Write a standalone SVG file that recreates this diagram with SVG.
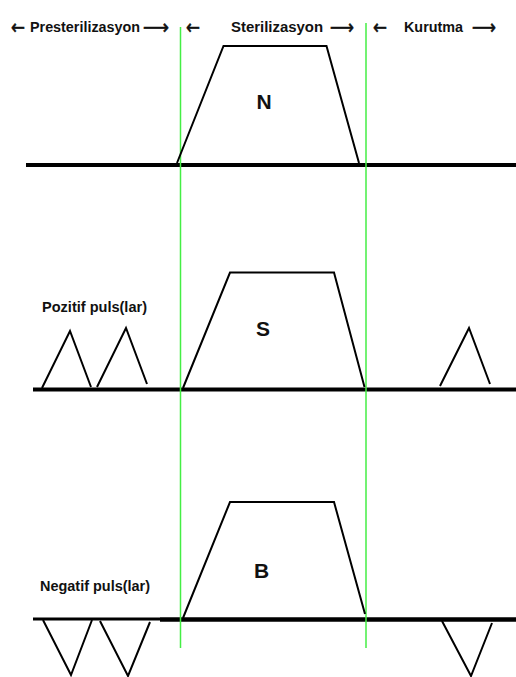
<svg xmlns="http://www.w3.org/2000/svg" width="516" height="677" viewBox="0 0 516 677">
<style>
.base{stroke:#000;stroke-width:4;fill:none}
.shape{stroke:#000;stroke-width:2;fill:none;stroke-linejoin:miter}
.green{stroke:#44ee44;stroke-width:1.5;fill:none}
.hdr{font-family:"Liberation Sans","DejaVu Sans",Arial,sans-serif;font-weight:bold;font-size:14px;fill:#111}
.arr{font-family:"DejaVu Sans","Liberation Sans",sans-serif;font-size:20px;fill:#111;stroke:#111;stroke-width:0.6}
.lbl{font-family:"Liberation Sans",Arial,sans-serif;font-weight:bold;font-size:21px;fill:#111;text-anchor:middle}
</style>
<rect width="516" height="677" fill="#fff"/>
<g id="connectors">
<line class="base" x1="26" y1="165" x2="516" y2="165"/>
<line class="base" x1="33" y1="389.5" x2="516" y2="389.5"/>
<line class="base" x1="33" y1="619" x2="160" y2="619" style="stroke-width:3"/>
<line class="base" x1="160" y1="619.5" x2="516" y2="619.5" style="stroke-width:4.5"/>
<line class="green" x1="180.5" y1="27" x2="180.5" y2="648"/>
<line class="green" x1="366" y1="23" x2="366" y2="648"/>
</g>
<g id="header-presterilizasyon">
<text class="arr" x="11" y="33.5" textLength="14" lengthAdjust="spacingAndGlyphs">←</text>
<text class="hdr" x="30" y="32" textLength="110" lengthAdjust="spacingAndGlyphs">Presterilizasyon</text>
<text class="arr" x="143" y="33.5" textLength="26" lengthAdjust="spacingAndGlyphs">⟶</text>
</g>
<g id="header-sterilizasyon">
<text class="arr" x="186" y="33.5" textLength="14" lengthAdjust="spacingAndGlyphs">←</text>
<text class="hdr" x="231" y="32" textLength="92" lengthAdjust="spacingAndGlyphs">Sterilizasyon</text>
<text class="arr" x="330" y="33.5" textLength="24" lengthAdjust="spacingAndGlyphs">⟶</text>
</g>
<g id="header-kurutma">
<text class="arr" x="373" y="33.5" textLength="14" lengthAdjust="spacingAndGlyphs">←</text>
<text class="hdr" x="404" y="32" textLength="59" lengthAdjust="spacingAndGlyphs">Kurutma</text>
<text class="arr" x="472" y="33.5" textLength="24" lengthAdjust="spacingAndGlyphs">⟶</text>
</g>
<g id="node-N">
<polyline class="shape" points="177,163 223.5,46 326.5,46 359,163"/>
<text class="lbl" x="264" y="109">N</text>
</g>
<g id="node-S">
<polyline class="shape" points="183,388 230,272.5 334,272.5 364.5,387"/>
<text class="lbl" x="263" y="336">S</text>
</g>
<g id="node-B">
<polyline class="shape" points="183,618 230,502 334,502 365,614"/>
<text class="lbl" x="261.5" y="577.5">B</text>
</g>
<g id="positive-pulses">
<text class="hdr" x="42" y="312" textLength="105" lengthAdjust="spacingAndGlyphs">Pozitif puls(lar)</text>
<polyline class="shape" points="42,388 70,331 91,387"/>
<polyline class="shape" points="97,387 126,328 147,384"/>
<polyline class="shape" points="440,386 469,328 490,384"/>
</g>
<g id="negative-pulses">
<text class="hdr" x="40" y="591" textLength="110" lengthAdjust="spacingAndGlyphs">Negatif puls(lar)</text>
<polyline class="shape" points="43,620 71,675 92,620"/>
<polyline class="shape" points="100,621 128,676 150,622"/>
<polyline class="shape" points="442,621 471,676 492,623"/>
</g>
</svg>
